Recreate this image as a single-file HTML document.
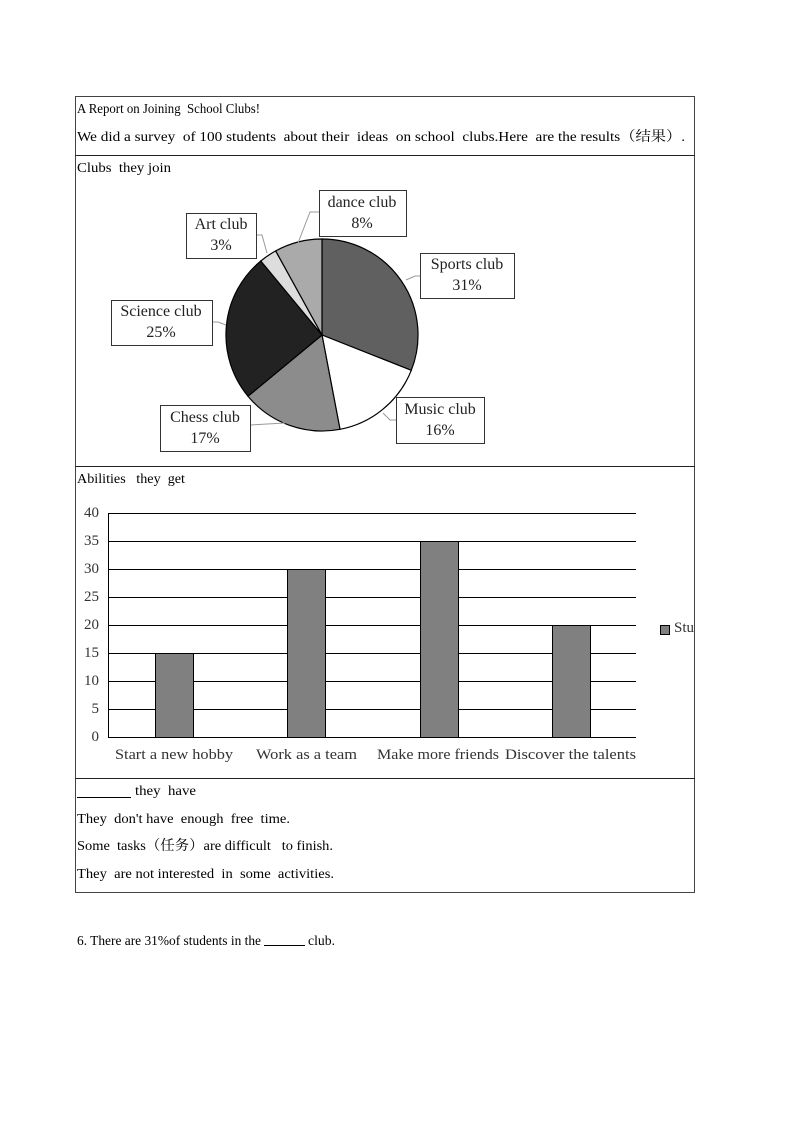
<!DOCTYPE html>
<html><head><meta charset="utf-8"><style>
html,body{margin:0;padding:0;background:#fff;}
svg{display:block;}
.t{font-family:"Liberation Serif","Noto Serif CJK SC",serif;font-size:14px;fill:#000;}
.l{font-family:"Liberation Serif","Noto Serif CJK SC",serif;font-size:16px;fill:#222;}
.a{font-family:"Liberation Serif",serif;font-size:15px;fill:#333;}
</style></head><body>
<svg width="794" height="1123" viewBox="0 0 794 1123" xmlns="http://www.w3.org/2000/svg">
<rect x="75.5" y="96.5" width="619" height="796" fill="none" stroke="#444" stroke-width="1"/>
<line x1="75" y1="155.5" x2="695" y2="155.5" stroke="#222"/>
<line x1="75" y1="466.5" x2="695" y2="466.5" stroke="#222"/>
<line x1="75" y1="778.5" x2="695" y2="778.5" stroke="#222"/>
<text class="t" x="77" y="113" textLength="183" lengthAdjust="spacingAndGlyphs" xml:space="preserve">A Report on Joining  School Clubs!</text>
<text class="t" x="77" y="141" textLength="608" lengthAdjust="spacingAndGlyphs" xml:space="preserve">We did a survey  of 100 students  about their  ideas  on school  clubs.Here  are the results（结果）.</text>
<text class="t" x="77" y="172" textLength="94" lengthAdjust="spacingAndGlyphs" xml:space="preserve">Clubs  they join</text>
<!-- pie -->
<g stroke="#000" stroke-width="1.2">
<path d="M322,335 L322,239 A96,96 0 0,1 411.3,370.3 Z" fill="#606060"/>
<path d="M322,335 L411.3,370.3 A96,96 0 0,1 340,429.3 Z" fill="#fff"/>
<path d="M322,335 L340,429.3 A96,96 0 0,1 248,396.2 Z" fill="#8c8c8c"/>
<path d="M322,335 L248,396.2 A96,96 0 0,1 260.8,261 Z" fill="#222"/>
<path d="M322,335 L260.8,261 A96,96 0 0,1 275.7,250.9 Z" fill="#ddd"/>
<path d="M322,335 L275.7,250.9 A96,96 0 0,1 322,239 Z" fill="#aaa"/>
</g>
<g stroke="#999" fill="none" stroke-width="1">
<polyline points="298,243 310,212 319,212"/>
<polyline points="267,253 262,235 256,235"/>
<polyline points="406,280 415,276 420,276"/>
<polyline points="226,325 218,322 212,322"/>
<polyline points="285,423 250,425"/>
<polyline points="383,413 390,420 396,420"/>
</g>
<g fill="#fff" stroke="#333" stroke-width="1">
<rect x="319.5" y="190.5" width="87" height="46"/>
<rect x="186.5" y="213.5" width="70" height="45"/>
<rect x="420.5" y="253.5" width="94" height="45"/>
<rect x="111.5" y="300.5" width="101" height="45"/>
<rect x="160.5" y="405.5" width="90" height="46"/>
<rect x="396.5" y="397.5" width="88" height="46"/>
</g>
<g class="l" text-anchor="middle">
<text x="362" y="207">dance club</text><text x="362" y="228">8%</text>
<text x="221" y="229">Art club</text><text x="221" y="250">3%</text>
<text x="467" y="269">Sports club</text><text x="467" y="290">31%</text>
<text x="161" y="316">Science club</text><text x="161" y="337">25%</text>
<text x="205" y="422">Chess club</text><text x="205" y="443">17%</text>
<text x="440" y="414">Music club</text><text x="440" y="435">16%</text>
</g>
<!-- bar chart -->
<text class="t" x="77" y="483" textLength="108" lengthAdjust="spacingAndGlyphs" xml:space="preserve">Abilities   they  get</text>
<g stroke="#000" stroke-width="1">
<line x1="108" y1="513.5" x2="636" y2="513.5"/>
<line x1="108" y1="541.5" x2="636" y2="541.5"/>
<line x1="108" y1="569.5" x2="636" y2="569.5"/>
<line x1="108" y1="597.5" x2="636" y2="597.5"/>
<line x1="108" y1="625.5" x2="636" y2="625.5"/>
<line x1="108" y1="653.5" x2="636" y2="653.5"/>
<line x1="108" y1="681.5" x2="636" y2="681.5"/>
<line x1="108" y1="709.5" x2="636" y2="709.5"/>
<line x1="108" y1="737.5" x2="636" y2="737.5"/>
<line x1="108.5" y1="513" x2="108.5" y2="737"/>
</g>
<g fill="#808080" stroke="#000" stroke-width="1">
<rect x="155.5" y="653.5" width="38" height="84"/>
<rect x="287.5" y="569.5" width="38" height="168"/>
<rect x="420.5" y="541.5" width="38" height="196"/>
<rect x="552.5" y="625.5" width="38" height="112"/>
</g>
<g class="a" text-anchor="end">
<text x="99" y="517">40</text><text x="99" y="545">35</text><text x="99" y="573">30</text>
<text x="99" y="601">25</text><text x="99" y="629">20</text><text x="99" y="657">15</text>
<text x="99" y="685">10</text><text x="99" y="713">5</text><text x="99" y="741">0</text>
</g>
<g class="a">
<text x="115" y="759" textLength="118" lengthAdjust="spacingAndGlyphs">Start a new hobby</text>
<text x="256" y="759" textLength="101" lengthAdjust="spacingAndGlyphs">Work as a team</text>
<text x="377" y="759" textLength="122" lengthAdjust="spacingAndGlyphs">Make more friends</text>
<text x="505" y="759" textLength="131" lengthAdjust="spacingAndGlyphs">Discover the talents</text>
</g>
<rect x="660.5" y="625.5" width="9" height="9" fill="#808080" stroke="#000"/>
<svg x="672" y="615" width="22" height="22"><text class="a" x="2" y="17">Stu</text></svg>
<!-- bottom -->
<line x1="77" y1="797.5" x2="131" y2="797.5" stroke="#000"/>
<text class="t" x="135" y="795" textLength="61" lengthAdjust="spacingAndGlyphs" xml:space="preserve">they  have</text>
<text class="t" x="77" y="823" textLength="213" lengthAdjust="spacingAndGlyphs" xml:space="preserve">They  don't have  enough  free  time.</text>
<text class="t" x="77" y="850" textLength="256" lengthAdjust="spacingAndGlyphs" xml:space="preserve">Some  tasks（任务）are difficult   to finish.</text>
<text class="t" x="77" y="878" textLength="257" lengthAdjust="spacingAndGlyphs" xml:space="preserve">They  are not interested  in  some  activities.</text>
<text class="t" x="77" y="945" textLength="184" lengthAdjust="spacingAndGlyphs">6. There are 31%of students in the</text>
<line x1="264" y1="945.5" x2="305" y2="945.5" stroke="#000"/>
<text class="t" x="308" y="945" textLength="27" lengthAdjust="spacingAndGlyphs">club.</text>
</svg>
</body></html>
